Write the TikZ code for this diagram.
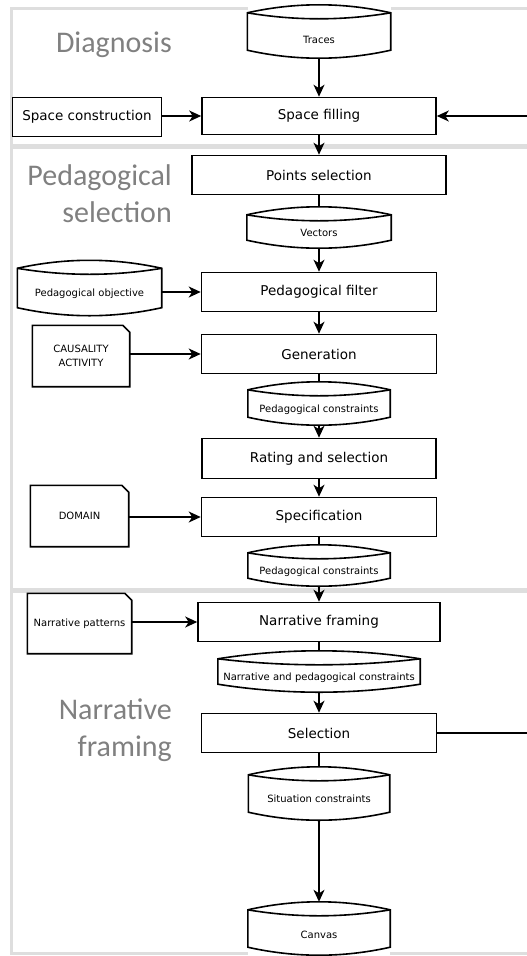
\documentclass[tikz,border=0pt]{standalone}
\usepackage{fontspec}
\setmainfont{DejaVu Sans}
\newfontfamily\titlefont{Carlito}
\usetikzlibrary{arrows.meta}
\usetikzlibrary{calc}

\begin{document}
\begin{tikzpicture}[x=1pt,y=-1pt]
	\tikzstyle{panel}=[draw=black!13,line width=3pt]
	\tikzstyle{title}=[font=\titlefont\fontsize{30}{37}\selectfont,text=black!50,align=right,anchor=base east,inner sep=0pt]
	\tikzstyle{proc}=[rectangle,draw,line width=1.6pt,fill=white,minimum height=39pt,inner sep=2pt,font=\fontsize{13.5}{16}\selectfont]
	\tikzstyle{store}=[rectangle,fill=white,inner sep=1pt,text height=17pt,text depth=0pt,font=\fontsize{10}{12}\selectfont]
	\tikzstyle{card}=[rectangle,fill=white,align=center,font=\fontsize{10}{14}\selectfont]
	\tikzstyle{outline}=[line width=1.6pt]
	\tikzstyle{flow}=[line width=1.5pt,-{Stealth[length=12pt,width=11pt,inset=3.5pt]}]
	\tikzstyle{link}=[line width=1.5pt]

	\useasboundingbox (0,0) rectangle (527,956);
	\clip (0,0) rectangle (527,956);

	% the three phases
	\draw[panel] (11,8) rectangle (560,145);
	\draw[panel] (11,147.5) rectangle (560,589);
	\draw[panel] (11,591.5) rectangle (560,953);
	\node[title] (diag) at (172,52) {Diagnosis};
	\node[title] (pedsel) at (172,222) {Pedagogical\\selection};
	\node[title] (narr) at (172,756) {Narrative\\framing};

	% processes
	\node[proc,minimum width=234pt,minimum height=37pt] (fill) at (319,116) {Space filling};
	\node[proc,minimum width=149pt] (spacecons) at (87,117) {Space construction};
	\node[proc,minimum width=254pt] (points) at (319,175) {Points selection};
	\node[proc,minimum width=235pt] (pfilter) at (319,292) {Pedagogical filter};
	\node[proc,minimum width=235pt] (gen) at (319,354) {Generation};
	\node[proc,minimum width=234pt,minimum height=40pt] (rating) at (319,458.5) {Rating and selection};
	\node[proc,minimum width=235pt] (spec) at (319,517) {Specification};
	\node[proc,minimum width=242pt] (nframe) at (319,622) {Narrative framing};
	\node[proc,minimum width=235pt] (select) at (319,733) {Selection};

	% stored data
	\node[store,minimum width=143pt,minimum height=53pt,text height=24pt] (traces) at (319,31.5) {Traces};
	\node[store,minimum width=144pt,minimum height=41pt] (vectors) at (319,227.5) {Vectors};
	\node[store,minimum width=144pt,minimum height=55pt] (pobj) at (89.5,288) {Pedagogical objective};
	\node[store,minimum width=142pt,minimum height=43pt] (pcons1) at (319,403.5) {Pedagogical constraints};
	\node[store,minimum width=142pt,minimum height=41pt] (pcons2) at (319,565.5) {Pedagogical constraints};
	\node[store,minimum width=202pt,minimum height=41pt] (npcons) at (319,671.5) {Narrative and pedagogical constraints};
	\node[store,minimum width=141pt,minimum height=53pt,text height=18pt] (sitcons) at (319,793.5) {Situation constraints};
	\node[store,minimum width=142pt,minimum height=53pt,text height=20pt] (canvas) at (319,928.5) {Canvas};

	% documents
	\node[card,minimum width=97pt,minimum height=61pt] (causal) at (81,356) {CAUSALITY\\ACTIVITY};
	\node[card,minimum width=98pt,minimum height=61pt] (domain) at (79.5,516) {DOMAIN};
	\node[card,minimum width=104pt,minimum height=60pt] (npat) at (79.5,623.5) {Narrative patterns};

	\foreach \n in {traces,vectors,pobj,pcons1,pcons2,npcons,sitcons,canvas}{
		\draw[outline] ($(\n.north west)+(0,8)$) .. controls ($(\n.north west)!1/3!(\n.north east)+(0,-2.67)$) and ($(\n.north west)!2/3!(\n.north east)+(0,-2.67)$) .. ($(\n.north east)+(0,8)$)
			-- ($(\n.south east)+(0,-8)$) .. controls ($(\n.south west)!2/3!(\n.south east)+(0,2.67)$) and ($(\n.south west)!1/3!(\n.south east)+(0,2.67)$) .. ($(\n.south west)+(0,-8)$) -- cycle;
		\draw[outline] ($(\n.north west)+(0,8)$) .. controls ($(\n.north west)!1/3!(\n.north east)+(0,16)$) and ($(\n.north west)!2/3!(\n.north east)+(0,16)$) .. ($(\n.north east)+(0,8)$);
	}
	\foreach \n in {causal,domain,npat}{
		\draw[outline] (\n.south west) -- (\n.north west) -- ($(\n.north east)+(-7,0)$) -- ($(\n.north east)+(0,7)$) -- (\n.south east) -- cycle;
	}

	% connectors
	\draw[flow] (traces) -- (fill);
	\draw[flow] (spacecons.east |- fill) -- (fill);
	\draw[flow] (fill) -- (points);
	\draw[link] (points) -- (vectors);
	\draw[flow] (vectors) -- (pfilter);
	\draw[flow] (pobj.east |- pfilter) -- (pfilter);
	\draw[flow] (pfilter) -- (gen);
	\draw[flow] (causal.east |- gen) -- (gen);
	\draw[link] (gen) -- (pcons1);
	\draw[flow] (pcons1) -- (rating);
	\draw[flow] (rating) -- (spec);
	\draw[flow] (domain.east |- spec) -- (spec);
	\draw[link] (spec) -- (pcons2);
	\draw[flow] (pcons2) -- (nframe);
	\draw[flow] (npat.east |- nframe) -- (nframe);
	\draw[link] (nframe) -- (npcons);
	\draw[flow] (npcons) -- (select);
	\draw[link] (select) -- (sitcons);
	\draw[flow] (sitcons) -- (canvas);
	\draw[flow] (select.east) -- ++(120,0) |- (fill.east);
\end{tikzpicture}
\end{document}
